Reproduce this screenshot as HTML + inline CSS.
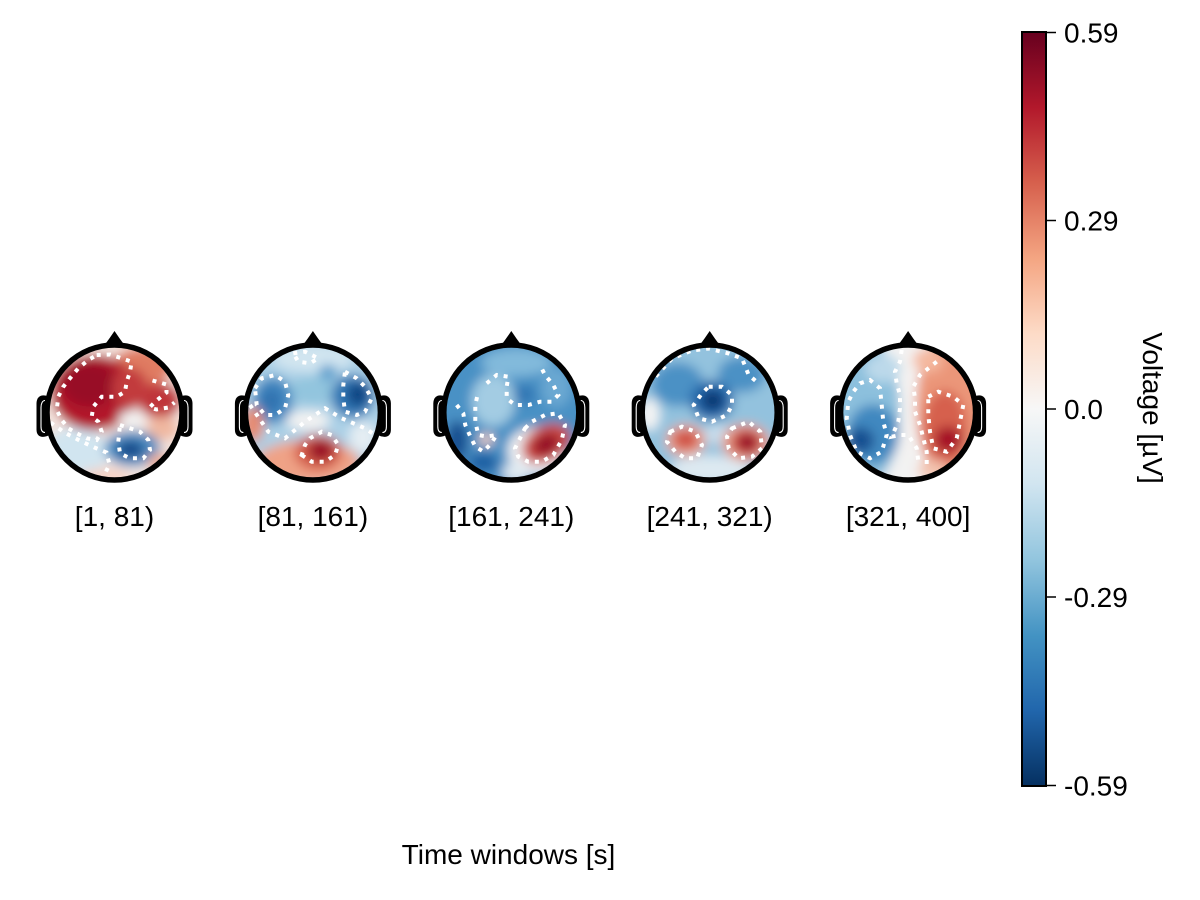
<!DOCTYPE html>
<html>
<head>
<meta charset="utf-8">
<style>
html,body{margin:0;padding:0;background:#fff;}
svg{display:block;}
text{font-family:"Liberation Sans",Arial,sans-serif;fill:#000;}
</style>
</head>
<body>
<svg width="1200" height="900" viewBox="0 0 1200 900" xmlns="http://www.w3.org/2000/svg">
<defs>
  <filter id="b" x="-50%" y="-50%" width="200%" height="200%"><feGaussianBlur stdDeviation="5.5"/></filter>
  <clipPath id="c"><circle cx="0" cy="0" r="65.5"/></clipPath>
  <linearGradient id="cb" x1="0" y1="0" x2="0" y2="1">
    <stop offset="0" stop-color="#67001f"/>
    <stop offset="0.1" stop-color="#b2182b"/>
    <stop offset="0.2" stop-color="#d6604d"/>
    <stop offset="0.3" stop-color="#f4a582"/>
    <stop offset="0.4" stop-color="#fddbc7"/>
    <stop offset="0.5" stop-color="#f7f7f7"/>
    <stop offset="0.6" stop-color="#d1e5f0"/>
    <stop offset="0.7" stop-color="#92c5de"/>
    <stop offset="0.8" stop-color="#4393c3"/>
    <stop offset="0.9" stop-color="#2166ac"/>
    <stop offset="1" stop-color="#053061"/>
  </linearGradient>
  <g id="o">
    <path d="M -11 -66 Q -5 -74 0 -81.5 Q 5 -74 11 -66 Z" fill="#000"/>
    <path d="M -66 -16 C -73 -19 -78 -16 -78 -9 L -78 17 C -78 24 -73 26 -66 23 Z" fill="#000"/>
    <path d="M 66 -16 C 73 -19 78 -16 78 -9 L 78 17 C 78 24 73 26 66 23 Z" fill="#000"/>
    <path d="M -69.5 -12 C -72 -12 -73.5 -9 -73.5 -5 L -73.5 14 C -73.5 18 -72 20 -69.5 20" fill="none" stroke="#fff" stroke-width="1.1"/>
    <path d="M 69.5 -12 C 72 -12 73.5 -9 73.5 -5 L 73.5 14 C 73.5 18 72 20 69.5 20" fill="none" stroke="#fff" stroke-width="1.1"/>
    <circle cx="0" cy="0" r="67.5" fill="none" stroke="#000" stroke-width="5.5"/>
  </g>
</defs>

<!-- Head 1 -->
<g transform="translate(114.5,412.5)">
  <g clip-path="url(#c)">
    <g filter="url(#b)">
      <rect x="-100" y="-100" width="200" height="200" fill="#f3e4de"/>
      <ellipse cx="-38" cy="40" rx="32" ry="26" fill="#d1e5f0"/>
      <ellipse cx="28" cy="-46" rx="30" ry="20" fill="#e07b62"/>
      <ellipse cx="45" cy="-12" rx="22" ry="18" fill="#c0353a"/>
      <ellipse cx="-20" cy="-20" rx="44" ry="38" fill="#b2182b"/>
      <ellipse cx="-25" cy="-28" rx="28" ry="22" fill="#980c27"/>
      <ellipse cx="15" cy="-25" rx="18" ry="20" fill="#c23b3d"/>
      <ellipse cx="18" cy="6" rx="14" ry="8" fill="#f2f2f2"/>
      <ellipse cx="48" cy="16" rx="16" ry="12" fill="#f0b8a0"/>
      <ellipse cx="18" cy="36" rx="28" ry="18" fill="#4a8ec4"/>
      <ellipse cx="16" cy="37" rx="14" ry="9" fill="#15498a"/>
      <ellipse cx="-10" cy="64" rx="25" ry="8" fill="#f6d2c4"/>
      <ellipse cx="45" cy="50" rx="12" ry="10" fill="#eeb09a"/>
    </g>
    <g fill="none" stroke="#fff" stroke-width="4" stroke-dasharray="4 6">
      <polygon points="-17.8,-57.5 -4.5,-58 7.2,-54.2 17.2,-50.8 15.5,-40.8 12.2,-30.8 10.5,-20.8 2.2,-15.8 -12.8,-15.8 -21.2,-5.8 -22.8,4.2 -16.2,9.2 -12.8,19.2 -17.8,27.5 -27.8,25.8 -37.8,20.8 -46.2,15.8 -52.8,7.5 -57.8,-2.5 -56.2,-15.8 -51.2,-25.8 -44.5,-34.2 -36.2,-44.2 -26.2,-52.5"/>
      <polygon points="5.5,12.5 15.5,15.8 25.5,19.2 33.8,27.5 35.5,37.5 28.8,45.8 15.5,45.8 5.5,40.8 3.8,29.2"/>
      <polyline points="38,-32 52,-28 52,-20 42,-12 35,-5 42,-3 54,-5 60,-10"/>
      <polyline points="-64,10 -50,20 -35,28 -20,35 -8,40 -5,52 -10,62"/>
    </g>
  </g>
  <use href="#o"/>
</g>

<!-- Head 2 -->
<g transform="translate(312.9,412.5)">
  <g clip-path="url(#c)">
    <g filter="url(#b)">
      <rect x="-100" y="-100" width="200" height="200" fill="#abd0e6"/>
      <ellipse cx="0" cy="-54" rx="40" ry="14" fill="#d1e5f0"/>
      <ellipse cx="0" cy="-22" rx="25" ry="14" fill="#92c5de"/>
      <ellipse cx="-40" cy="-12" rx="20" ry="24" fill="#3f86bf"/>
      <ellipse cx="-42" cy="-12" rx="9" ry="11" fill="#2f70ae"/>
      <ellipse cx="40" cy="-16" rx="22" ry="22" fill="#3178b5"/>
      <ellipse cx="45" cy="-18" rx="11" ry="12" fill="#0e4583"/>
      <ellipse cx="15" cy="-40" rx="9" ry="8" fill="#5b9fcd"/>
      <ellipse cx="-5" cy="8" rx="22" ry="10" fill="#f2f2f2"/>
      <ellipse cx="50" cy="25" rx="14" ry="16" fill="#e4edf3"/>
      <ellipse cx="-60" cy="12" rx="11" ry="18" fill="#e68a6f"/>
      <ellipse cx="-5" cy="50" rx="52" ry="22" fill="#efa286"/>
      <ellipse cx="5" cy="40" rx="24" ry="18" fill="#d6604d"/>
      <ellipse cx="8" cy="38" rx="13" ry="11" fill="#9a0b27"/>
    </g>
    <g fill="none" stroke="#fff" stroke-width="4" stroke-dasharray="4 6">
      <polygon points="32.1,-40.8 43.8,-34.2 52.1,-25.8 58.8,-14.2 52.1,-0.8 43.8,2.5 32.1,-0.8 30.4,-14.2 30.4,-27.5"/>
      <polygon points="-19.6,-59.2 -7.9,-60.8 5.4,-54.2 -2.9,-49.2 -14.6,-50.8"/>
      <polygon points="-11.2,42.5 -1.2,49.2 12.1,49.2 22.1,42.5 25.4,32.5 18.8,22.5 8.8,19.2 -2.9,25.8 -7.9,32.5"/>
      <polygon points="-57.9,-24.2 -51.2,-34.2 -37.9,-37.5 -27.9,-30.8 -24.6,-17.5 -27.9,-4.2 -37.9,2.5 -47.9,2.5 -56.2,-7.5"/>
      <polyline points="-62.9,-7.5 -44.6,19.2 -27.9,25.8 -7.9,9.2 12.1,-4.2 28.8,5.8 52.1,15.8 62.1,22.5"/>
    </g>
  </g>
  <use href="#o"/>
</g>

<!-- Head 3 -->
<g transform="translate(511.3,412.5)">
  <g clip-path="url(#c)">
    <g filter="url(#b)">
      <rect x="-100" y="-100" width="200" height="200" fill="#4a91c5"/>
      <ellipse cx="5" cy="-50" rx="35" ry="14" fill="#82badb"/>
      <ellipse cx="-18" cy="-12" rx="22" ry="26" fill="#a3cce3"/>
      <ellipse cx="13" cy="-18" rx="11" ry="9" fill="#2f74b3"/>
      <ellipse cx="45" cy="-25" rx="15" ry="20" fill="#6aa8d2"/>
      <ellipse cx="-54" cy="28" rx="11" ry="20" fill="#164f91"/>
      <ellipse cx="-28" cy="50" rx="15" ry="10" fill="#1f5fa3"/>
      <ellipse cx="26" cy="38" rx="30" ry="24" fill="#eef0f2"/>
      <ellipse cx="-25" cy="27" rx="8" ry="6" fill="#f2d0c2"/>
      <ellipse cx="35" cy="31" rx="26" ry="18" transform="rotate(-30 35 31)" fill="#cc4a42"/>
      <ellipse cx="35" cy="32" rx="14" ry="10" transform="rotate(-30 35 32)" fill="#940926"/>
      <ellipse cx="5" cy="60" rx="14" ry="10" fill="#dfe9f1"/>
    </g>
    <g fill="none" stroke="#fff" stroke-width="4" stroke-dasharray="4 6">
      <polyline points="-24.6,-29.2 -14.6,-37.5 -3,-35.8 -4.6,-25.8 -4.6,-14.2 3.7,-7.5 17,-7.5 28.7,-10.8 40.3,-10.8 47,-17.5 42,-27.5 33.7,-37.5 28.7,-47.5"/>
      <polyline points="-54.6,-7.5 -48,1 -46,12.5 -41,24 -36,34 -28,39 -21,32 -14.6,22.5 -24.6,24 -33,22.5 -36,9 -36,-7.5 -33,-21"/>
      <polygon points="13.7,15.8 20.4,9.2 33.7,2.5 47,0.8 53.7,12.5 50.4,27.5 42,42.5 30.4,49.2 17,49.2 7,44.2 3.7,35.8 8.7,25.8"/>
    </g>
  </g>
  <use href="#o"/>
</g>

<!-- Head 4 -->
<g transform="translate(709.7,412.5)">
  <g clip-path="url(#c)">
    <g filter="url(#b)">
      <rect x="-100" y="-100" width="200" height="200" fill="#93c2de"/>
      <ellipse cx="-32" cy="-28" rx="26" ry="22" fill="#4b91c5"/>
      <ellipse cx="32" cy="-38" rx="24" ry="18" fill="#4b91c5"/>
      <ellipse cx="2" cy="-12" rx="22" ry="20" fill="#2367aa"/>
      <ellipse cx="3" cy="-12" rx="11" ry="10" fill="#0a3670"/>
      <ellipse cx="-60" cy="2" rx="10" ry="16" fill="#f4f4f4"/>
      <ellipse cx="0" cy="57" rx="40" ry="14" fill="#dde9f1"/>
      <ellipse cx="8" cy="22" rx="14" ry="10" fill="#c6dded"/>
      <ellipse cx="-24" cy="28" rx="20" ry="16" fill="#eea68e"/>
      <ellipse cx="-24" cy="27" rx="13" ry="10" fill="#cf5045"/>
      <ellipse cx="36" cy="30" rx="24" ry="19" fill="#eba08a"/>
      <ellipse cx="37" cy="30" rx="15" ry="13" fill="#bf3036"/>
      <ellipse cx="38" cy="30" rx="8" ry="7" fill="#8e0a26"/>
    </g>
    <g fill="none" stroke="#fff" stroke-width="4" stroke-dasharray="4 6">
      <polygon points="-1,-25.8 12.3,-25.8 22.3,-17.5 22.3,-7.5 17.3,2.5 2.3,9.2 -11,5.8 -16,-7.5 -7.7,-19.2"/>
      <polygon points="-39.4,19.2 -27.7,14.2 -14.4,19.2 -7.7,32.5 -12.7,45.8 -24.4,45.8 -34.4,39.2 -42.7,29.2"/>
      <polygon points="22.3,15.8 39,9.2 50.6,19.2 52.3,35.8 42.3,44.2 29,45.8 19,35.8 17.3,24.2"/>
      <polyline points="-54,-36 -37.7,-54 -17.7,-62 -1,-64 19,-59 32.3,-54 39,-37.5 49,-29"/>
    </g>
  </g>
  <use href="#o"/>
</g>

<!-- Head 5 -->
<g transform="translate(908.1,412.5)">
  <g clip-path="url(#c)">
    <g filter="url(#b)">
      <rect x="-100" y="-100" width="200" height="200" fill="#f2f2f2"/>
      <ellipse cx="-44" cy="0" rx="36" ry="75" fill="#8cc0dd"/>
      <ellipse cx="-35" cy="22" rx="26" ry="30" fill="#3f88c0"/>
      <ellipse cx="-48" cy="28" rx="14" ry="13" fill="#164f91"/>
      <ellipse cx="-25" cy="-44" rx="18" ry="14" fill="#bcd9ea"/>
      <ellipse cx="42" cy="-5" rx="34" ry="75" fill="#eb9679"/>
      <ellipse cx="37" cy="15" rx="22" ry="37" fill="#d6604d"/>
      <ellipse cx="40" cy="27" rx="14" ry="13" fill="#a50f26"/>
      <ellipse cx="20" cy="-52" rx="15" ry="12" fill="#f4b89f"/>
      <ellipse cx="25" cy="57" rx="15" ry="10" fill="#f3c2ae"/>
      <ellipse cx="0" cy="-10" rx="7" ry="60" fill="#f4f2f1"/>
    </g>
    <g fill="none" stroke="#fff" stroke-width="4" stroke-dasharray="4 6">
      <polyline points="-6.4,-62.5 -8.1,-50.8 -13.1,-40.8 -11.4,-29.2 -8.1,-17.5 -8.1,-4.2 -9.8,9.2 -16.4,24.2 -8.1,22.5 0.2,22.5 8.6,35.8 10.2,49.2"/>
      <polyline points="28.6,-50.8 11.9,-37.5 5.2,-25.8 6.9,-14.2 6.9,-0.8 11.9,12.5 15.2,25.8 18.6,39.2 18.6,52.5"/>
      <polygon points="20.2,-15.8 30.2,-20.8 45.2,-15.8 55.2,-7.5 51.9,9.2 48.6,25.8 38.6,39.2 25.2,35.8 21.9,19.2 20.2,2.5"/>
      <polygon points="-48.1,-29.2 -38.1,-32.5 -28.1,-24.2 -26.4,-7.5 -24.8,9.2 -21.4,22.5 -26.4,39.2 -38.1,45.8 -51.4,39.2 -58.1,22.5 -61.4,5.8 -59.8,-10.8 -54.8,-20.8"/>
    </g>
  </g>
  <use href="#o"/>
</g>

<!-- Labels -->
<g font-size="28" text-anchor="middle">
  <text x="114.5" y="526">[1, 81)</text>
  <text x="312.9" y="526">[81, 161)</text>
  <text x="511.3" y="526">[161, 241)</text>
  <text x="709.7" y="526">[241, 321)</text>
  <text x="908.1" y="526">[321, 400]</text>
  <text x="508.5" y="864">Time windows [s]</text>
</g>

<!-- Colorbar -->
<rect x="1022" y="32" width="24" height="754" fill="url(#cb)" stroke="#000" stroke-width="2"/>
<g stroke="#000" stroke-width="1.5">
  <line x1="1047" y1="32.5" x2="1056" y2="32.5"/>
  <line x1="1047" y1="220.5" x2="1056" y2="220.5"/>
  <line x1="1047" y1="409" x2="1056" y2="409"/>
  <line x1="1047" y1="597" x2="1056" y2="597"/>
  <line x1="1047" y1="785.5" x2="1056" y2="785.5"/>
</g>
<g font-size="28">
  <text x="1064" y="42.5">0.59</text>
  <text x="1064" y="230.5">0.29</text>
  <text x="1064" y="419">0.0</text>
  <text x="1064" y="607">-0.29</text>
  <text x="1064" y="795.5">-0.59</text>
</g>
<text font-size="28" text-anchor="middle" transform="translate(1143,408) rotate(90)">Voltage [µV]</text>
</svg>
</body>
</html>
